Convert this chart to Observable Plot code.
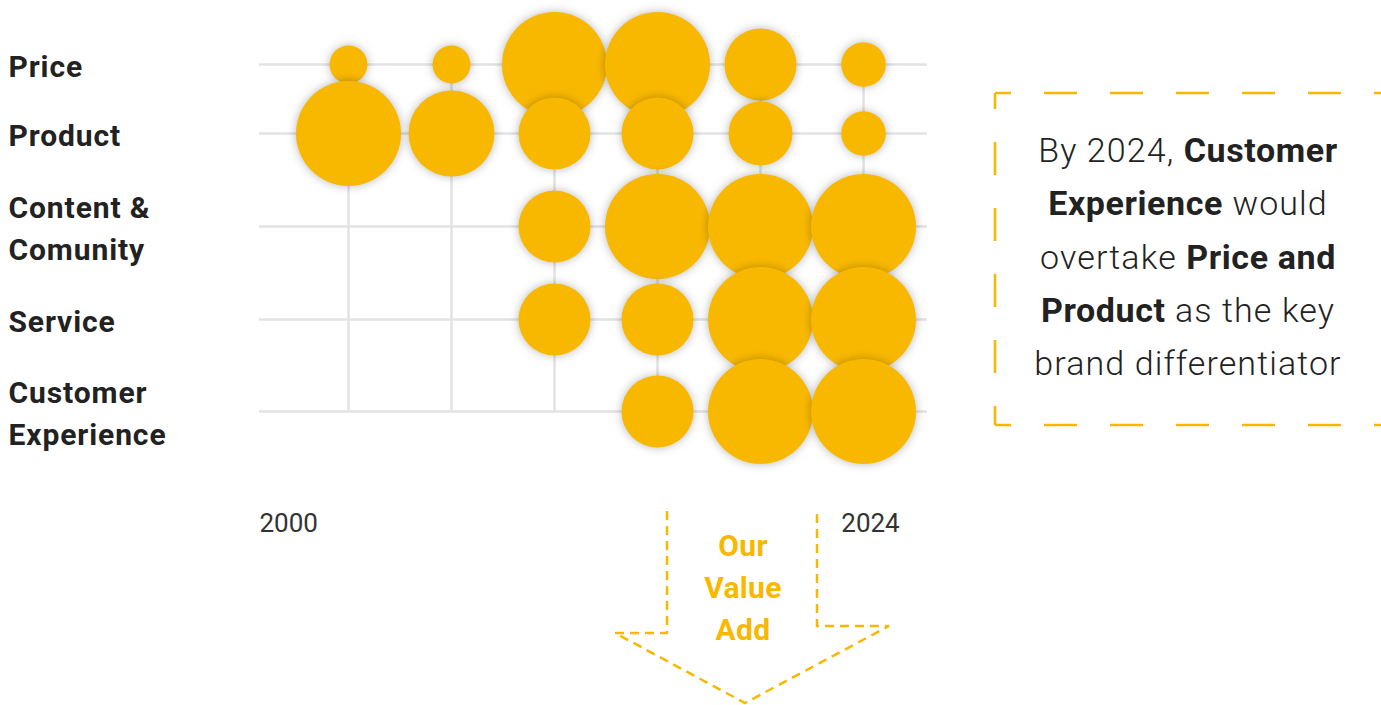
<!DOCTYPE html>
<html>
<head>
<meta charset="utf-8">
<script src="https://cdn.jsdelivr.net/npm/d3@7"></script>
<script src="https://cdn.jsdelivr.net/npm/@observablehq/plot@0.6"></script>
<style>
  html, body { margin: 0; padding: 0; background: #fff; }
  #wrap { position: relative; width: 1381px; height: 705px; overflow: hidden; font-family: Roboto, "Noto Sans", sans-serif; }
  #chart svg g[aria-label="dot"] circle { filter: drop-shadow(0 0 5px rgba(0,0,0,0.28)); }
  #note { position: absolute; left: 983px; width: 410px; top: 124px; text-align: center;
          font-size: 34px; line-height: 53.3px; color: #222; font-weight: 300; letter-spacing: 1.1px; }
  #note b { font-weight: 700; letter-spacing: 0.6px; }
  #value { position: absolute; left: 683px; width: 120px; top: 525px; text-align: center;
           font-size: 30px; line-height: 42px; color: #f9b800; font-weight: 700; letter-spacing: 0.3px; }
  #deco { position: absolute; left: 0; top: 0; }
</style>
</head>
<body>
<div id="wrap">
  <div id="chart"></div>
  <svg id="deco" width="1381" height="705"></svg>
  <div id="note">By 2024, <b>Customer</b><br><b>Experience</b> would<br>overtake <b>Price and</b><br><b>Product</b> as the key<br>brand differentiator</div>
  <div id="value">Our<br>Value<br>Add</div>
</div>
<script>
// ---- data ----
const categories = ["Price", "Product", "Content &\nComunity", "Service", "Customer\nExperience"];
const periods = [0, 1, 2, 3, 4, 5];            // six time steps from 2000 to 2024
const tickLabels = ["2000", "2024"];
// importance scores per category (null = not present)
const price    = [13, 13, 100, 100, 47, 18];
const product  = [100, 67, 47, 47, 37, 18];
const content  = [null, null, 47, 100, 100, 100];
const service  = [null, null, 47, 47, 100, 100];
const customer = [null, null, null, 47, 100, 100];

const series = [price, product, content, service, customer];
const table = [];
series.forEach((vals, row) => vals.forEach((v, col) => {
  if (v != null) table.push({row, col: periods[col], value: v});
}));
const rowIdx = categories.map((_, i) => i);

const gold = "#f9b800";
const chart = Plot.plot({
  width: 1381,
  height: 705,
  marginLeft: 259,
  marginRight: 454,
  marginTop: 0,
  marginBottom: 182,
  style: {fontFamily: "Roboto, sans-serif", background: "transparent", color: "#222"},
  x: {type: "point", domain: periods, padding: 0, insetLeft: 88, insetRight: 63, axis: null},
  y: {type: "linear", domain: [0, 1, 2, 3, 4], range: [64, 133, 226, 319, 411], axis: null},
  r: {type: "sqrt", domain: [0, 100], range: [0, 52.5]},
  marks: [
    Plot.ruleY(rowIdx, {y: d => d, stroke: "#e3e3e3", strokeWidth: 2.5}),
    Plot.ruleX(periods, {x: d => d, y1: 0, y2: rowIdx.length - 1, stroke: "#e3e3e3", strokeWidth: 2.5}),
    Plot.dot(table, {x: "col", y: "row", r: "value", fill: gold, stroke: null, sort: null}),
    Plot.text(categories, {y: (d, i) => i, text: d => d, frameAnchor: "left", dx: -251, dy: -1,
      textAnchor: "start", fontSize: 30, fontWeight: 700, lineHeight: 1.4, fill: "#222"}),
    Plot.text([tickLabels[0]], {text: d => d, frameAnchor: "bottom-left", textAnchor: "start",
      dy: 8, fontSize: 26, fill: "#333"}),
    Plot.text([tickLabels[1]], {x: () => periods[periods.length - 1], text: d => d, frameAnchor: "bottom",
      dx: 7, dy: 8, textAnchor: "middle", fontSize: 26, fill: "#333"})
  ]
});
document.getElementById("chart").appendChild(chart);
// slightly wider lettering for the category labels
d3.select(chart).selectAll('g[aria-label="text"]').filter((d, i) => i === 0).style("letter-spacing", "0.9px");

// ---- decorations: dashed annotation box and dashed arrow ----
const deco = d3.select("#deco");
const boxStyle = s => s.attr("stroke", gold).attr("stroke-width", 2.6).attr("fill", "none")
  .attr("stroke-dasharray", "33 33").attr("stroke-dashoffset", 17);
boxStyle(deco.append("line").attr("x1", 995).attr("y1", 93).attr("x2", 1420).attr("y2", 93));
boxStyle(deco.append("line").attr("x1", 995).attr("y1", 425).attr("x2", 1420).attr("y2", 425));
boxStyle(deco.append("line").attr("x1", 995).attr("y1", 93).attr("x2", 995).attr("y2", 425));

deco.append("path")
  .attr("d", "M667,511 L667,633 L615,633 L745,703 L889,626 L817,626 L817,511")
  .attr("fill", "none").attr("stroke", gold).attr("stroke-width", 2.5)
  .attr("stroke-dasharray", "9 6");
</script>
</body>
</html>
